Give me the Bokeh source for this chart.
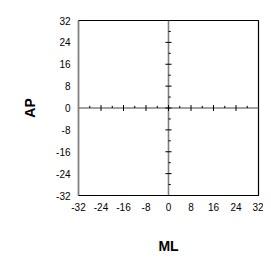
from bokeh.plotting import figure
from bokeh.embed import file_html
from bokeh.resources import INLINE
from bokeh.models import FixedTicker, Range1d

tick_values = [-32, -24, -16, -8, 0, 8, 16, 24, 32]
tick_labels = ["-32", "-24", "-16", "-8", "0", "8", "16", "24", "32"]
major_marks = [-24, -16, -8, 8, 16, 24]
minor_marks = [-28, -20, -12, -4, 4, 12, 20, 28]
x_label = "ML"
y_label = "AP"
axis_limits = (-32, 32)

FONT = "Liberation Sans"

p = figure(frame_width=180, frame_height=175, output_backend="svg", toolbar_location=None,
           x_range=Range1d(*axis_limits), y_range=Range1d(*axis_limits),
           min_border_left=78, min_border_top=20, min_border_right=5, min_border_bottom=50)
p.grid.visible = False
p.outline_line_color = "black"
p.outline_line_width = 1.2
p.background_fill_color = "white"
p.border_fill_color = "white"

for ax in (p.xaxis[0], p.yaxis[0]):
    ax.ticker = FixedTicker(ticks=tick_values)
    ax.major_label_overrides = {v: s for v, s in zip(tick_values, tick_labels)}
    ax.major_tick_line_color = None
    ax.minor_tick_line_color = None
    ax.major_tick_in = 0
    ax.major_tick_out = 0
    ax.minor_tick_in = 0
    ax.minor_tick_out = 0
    ax.major_label_text_font = FONT
    ax.major_label_text_font_size = "10px"
    ax.major_label_text_color = "black"
    ax.axis_label_text_font = FONT
    ax.axis_label_text_font_style = "bold"
    ax.axis_label_text_font_size = "14px"
    ax.axis_label_text_color = "black"

p.xaxis.axis_label = x_label
p.yaxis.axis_label = y_label
p.xaxis.axis_line_color = "black"
p.xaxis.axis_line_width = 1.2
p.yaxis.axis_line_color = "#808080"
p.yaxis.axis_line_width = 1.5
p.xaxis.major_label_standoff = 7
p.yaxis.major_label_standoff = 8
p.xaxis.axis_label_standoff = 24
p.yaxis.axis_label_standoff = 15

# center cross lines
p.segment(x0=[axis_limits[0], 0], y0=[0, axis_limits[0]], x1=[axis_limits[1], 0], y1=[0, axis_limits[1]],
          line_color="#808080", line_width=1.6)

hx = 1.1  # half-length of major ticks in data units
hy = 1.1
mn = 0.8
# major ticks on horizontal zero line (vertical ticks)
p.segment(x0=major_marks, y0=[-hy] * len(major_marks), x1=major_marks, y1=[hy] * len(major_marks),
          line_color="black", line_width=1)
p.segment(x0=[0], y0=[-hy], x1=[0], y1=[hy], line_color="black", line_width=1)
# minor ticks above horizontal line
p.segment(x0=minor_marks, y0=[0] * len(minor_marks), x1=minor_marks, y1=[mn] * len(minor_marks),
          line_color="black", line_width=1)
# major ticks on vertical zero line (horizontal ticks)
p.segment(x0=[-hx] * len(major_marks), y0=major_marks, x1=[hx] * len(major_marks), y1=major_marks,
          line_color="black", line_width=1)
p.segment(x0=[-hx], y0=[0], x1=[hx], y1=[0], line_color="black", line_width=1)
# minor ticks right of vertical line
p.segment(x0=[0] * len(minor_marks), y0=minor_marks, x1=[mn] * len(minor_marks), y1=minor_marks,
          line_color="black", line_width=1)

open("out.html", "w").write(file_html(p, INLINE))
